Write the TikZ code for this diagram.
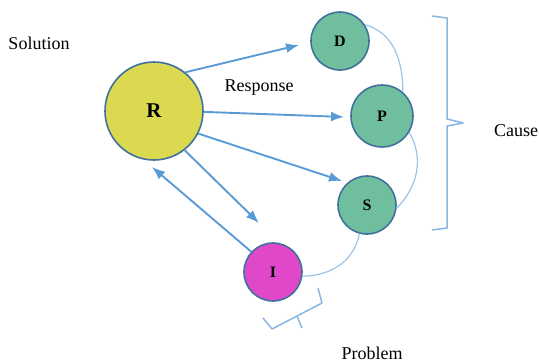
\documentclass[tikz,border=0pt]{standalone}
\usepackage{fontspec}
\setmainfont{Liberation Serif}
\usetikzlibrary{arrows.meta}
\definecolor{arrowblue}{HTML}{5B9BD5}
\definecolor{lightline}{HTML}{9DC3E6}
\definecolor{rim}{HTML}{41719C}
\definecolor{greenfill}{HTML}{6FBF9F}
\definecolor{yellowfill}{HTML}{DAD94F}
\definecolor{magentafill}{HTML}{E047C9}
\tikzset{
  bubble/.style={circle, draw=rim, line width=1.6pt, inner sep=0pt, font=\fontsize{16}{16}\selectfont\bfseries},
  arr/.style={draw=arrowblue, line width=1.9pt, -{Latex[length=13pt,width=10pt]}},
  link/.style={draw=lightline, line width=1.2pt},
  brace/.style={draw=lightline!70!arrowblue, line width=1.5pt, line join=round},
  label/.style={font=\fontsize{18}{18}\selectfont}
}
\begin{document}
\begin{tikzpicture}[x=1pt,y=-1pt]
\useasboundingbox (0,0) rectangle (539,362);
% circles
\node[bubble, fill=yellowfill, minimum size=98pt, font=\fontsize{21}{21}\selectfont\bfseries] (R) at (154,111) {R};
\node[bubble, fill=greenfill, minimum size=58pt] (D) at (340,41) {D};
\node[bubble, fill=greenfill, minimum size=62pt] (P) at (382,116) {P};
\node[bubble, fill=greenfill, minimum size=58pt] (S) at (367,205) {S};
\node[bubble, fill=magentafill, minimum size=58pt] (I) at (273,272) {I};
% labels
\node[label] (solution) at (39,43) {Solution};
\node[label] (response) at (259,88) {Response};
\node[label] (cause) at (516,131) {Cause};
\node[label] (problem) at (372,353) {Problem};
% arrow tips
\coordinate (tD) at (299,45);
\coordinate (tP) at (344,117);
\coordinate (tS) at (342,181);
\coordinate (tI) at (259,223);
\coordinate (tR) at (152,167);
% arrows
\draw[arr] (R.51) -- (tD);
\draw[arr] (R.-1) -- (tP);
\draw[arr] (R.-27) -- (tS);
\draw[arr] (R.-52) -- (tI);
\draw[arr] (I.137) -- (tR);
% links
\draw[link] (D.33) to[out=-15,in=90] (P.49);
\draw[link] (P.-31) to[out=-60,in=45] (S.-6);
\draw[link] (S.-105) to[out=-100,in=0] (I.-8);
% right brace
\draw[brace] (432,16) -- (447,18) -- (447,119) -- (463,123) -- (447,126) -- (447,228) -- (432,230);
% bottom brace
\draw[brace] (263,318) -- (272,329) -- (322,303) -- (318,288);
\draw[brace] (297,316) -- (302,328);
\end{tikzpicture}
\end{document}
